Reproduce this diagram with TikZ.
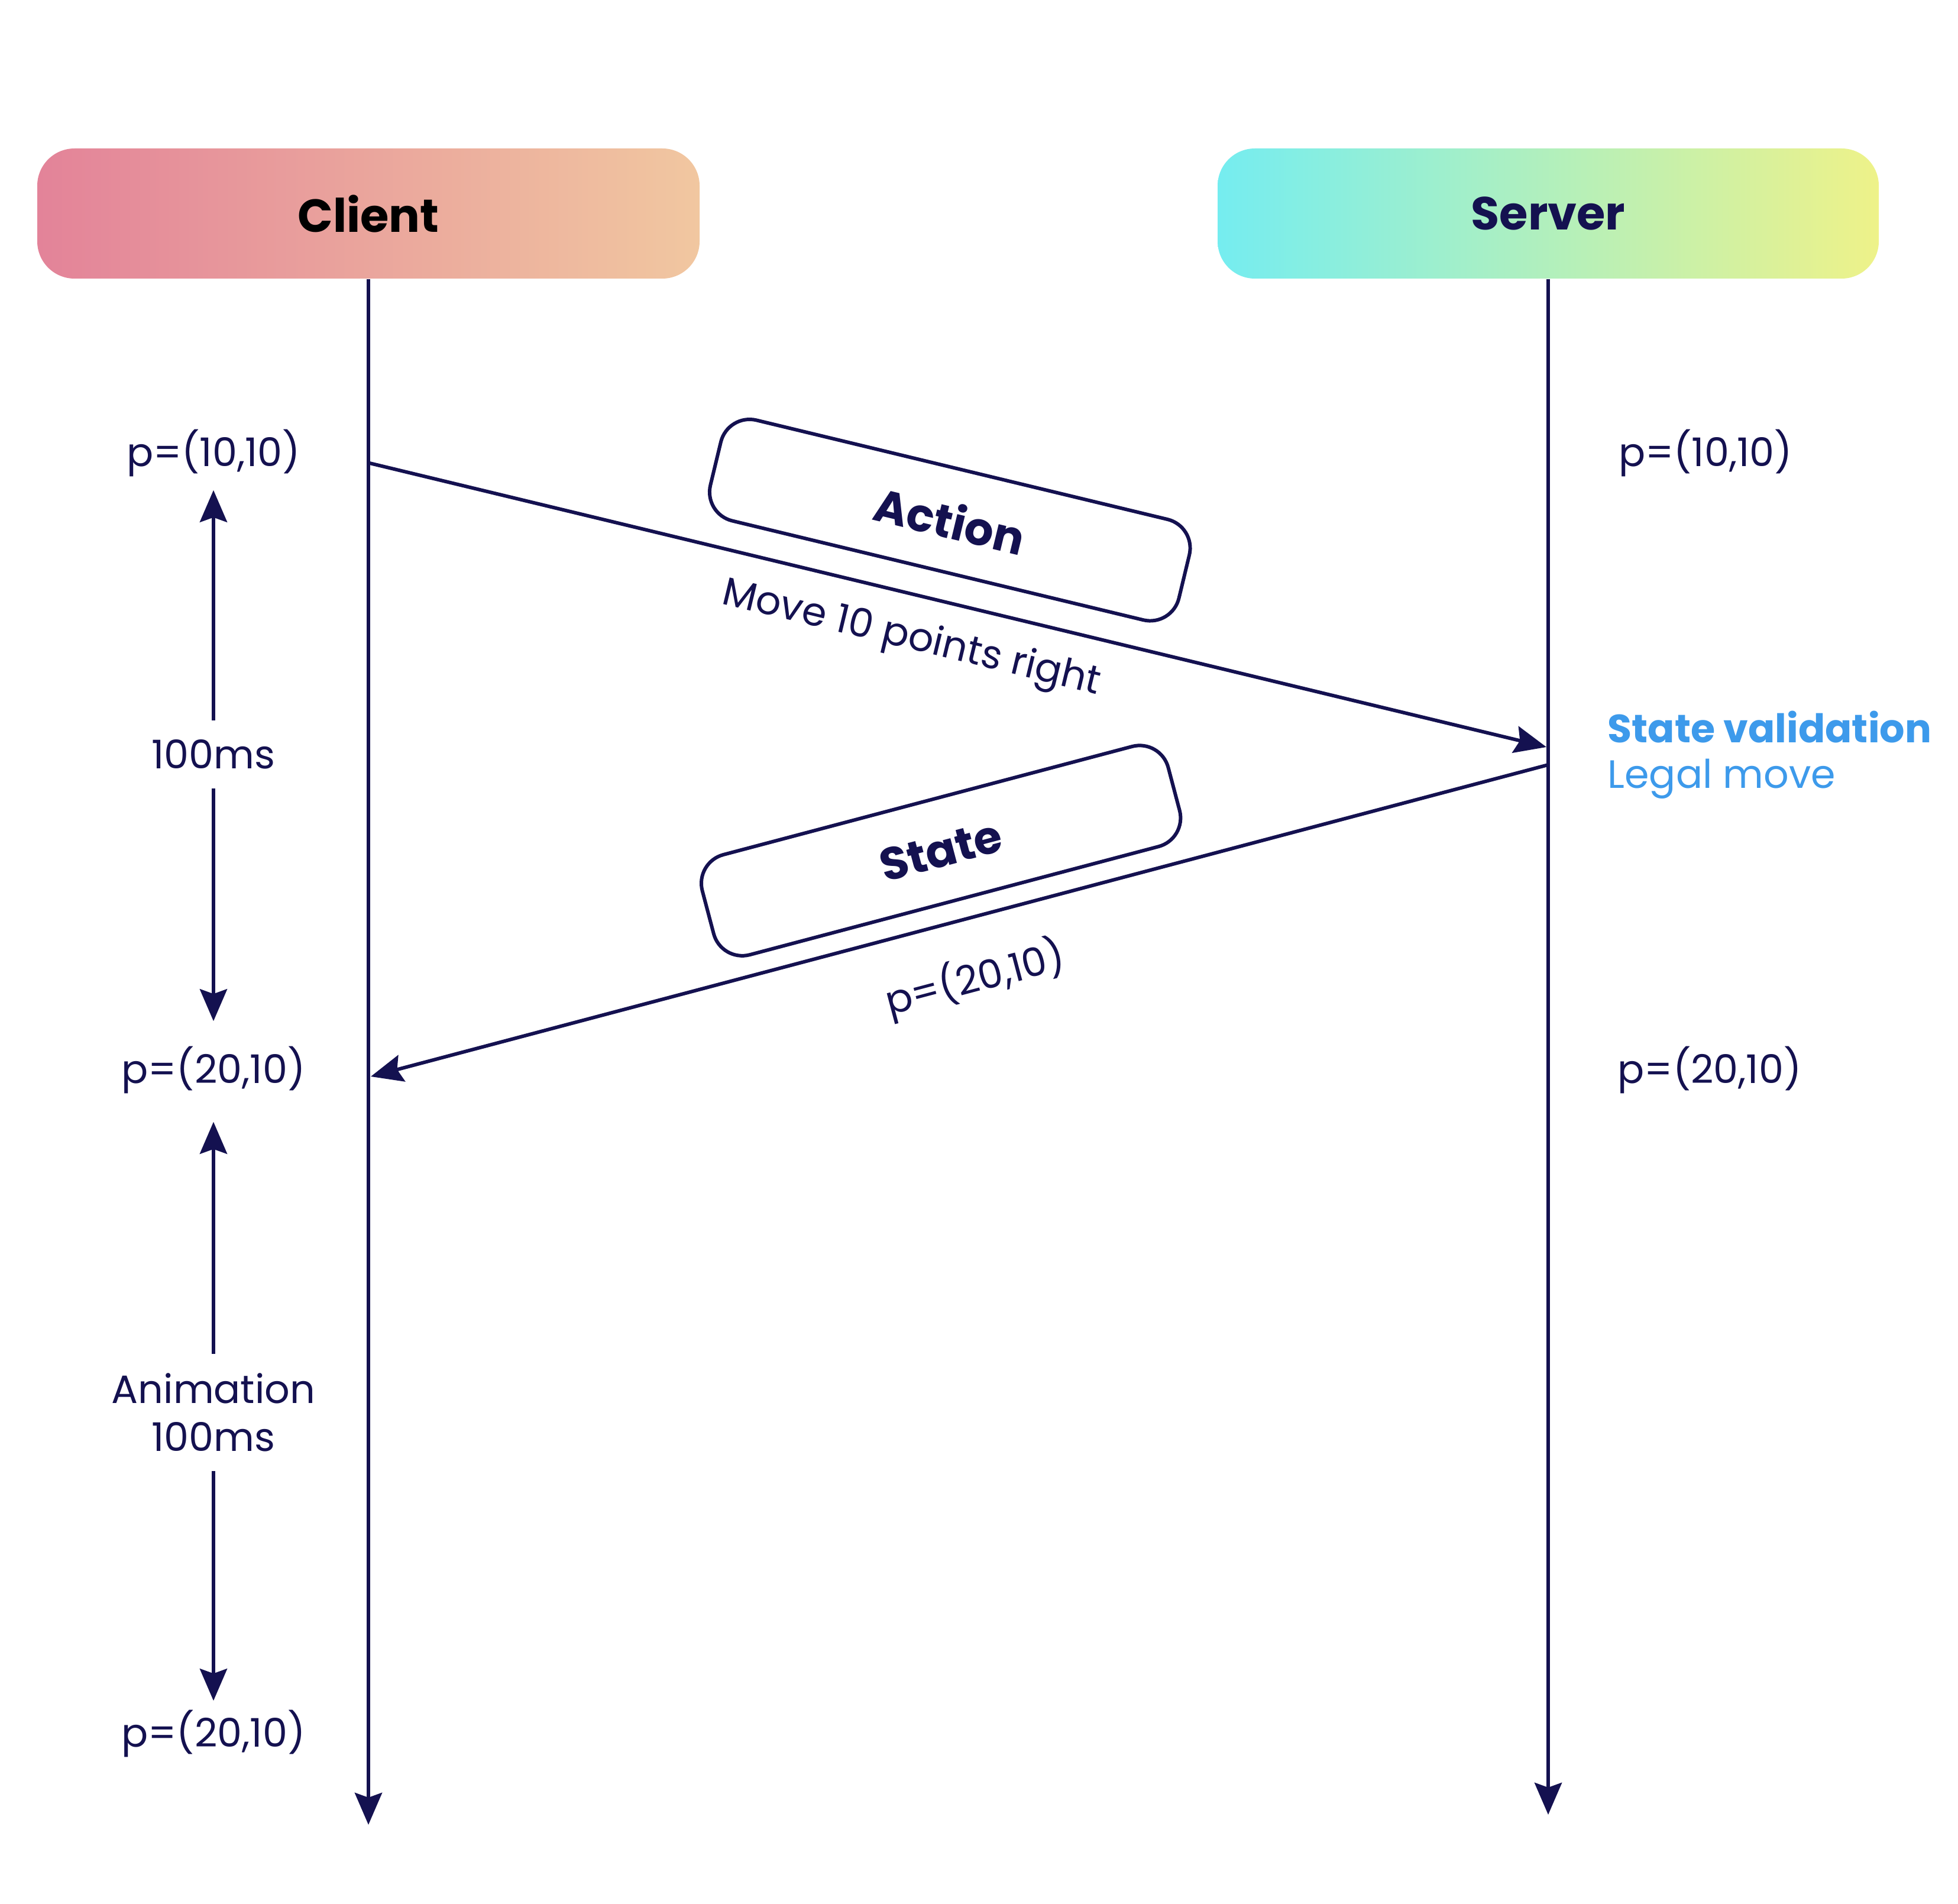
\documentclass[tikz,border=0pt]{standalone}
\usepackage{fontspec}
\setmainfont{Poppins}
\usetikzlibrary{arrows.meta}
\definecolor{navy}{RGB}{20,17,80}
\definecolor{valblue}{RGB}{61,154,235}
\definecolor{clientA}{RGB}{227,131,153}
\definecolor{clientB}{RGB}{241,199,160}
\definecolor{serverA}{RGB}{117,237,240}
\definecolor{serverB}{RGB}{238,242,137}
\tikzset{
  hdr/.style={rounded corners=0.63cm, minimum width=11.2cm, minimum height=2.2cm, inner sep=0pt,
    font=\fontsize{22.3}{27}\selectfont\bfseries},
  tagbox/.style={draw=navy, fill=white, line width=1.7pt, rounded corners=0.5cm, minimum width=8.15cm,
    minimum height=1.75cm, inner sep=0pt, text=navy, font=\fontsize{22}{26}\selectfont\bfseries},
  lab/.style={font=\fontsize{19}{23}\selectfont, text=navy, inner sep=0pt, text height=0.57cm, text depth=0.08cm},
  durlab/.style={font=\fontsize{19}{23}\selectfont, text=navy, fill=white, inner xsep=0.2cm, inner ysep=0.33cm, align=center},
  note/.style={font=\fontsize{19}{23}\selectfont, text=valblue, inner sep=0pt},
  life/.style={-{Stealth[length=5.4mm, width=4.6mm, inset=0.8mm]}, line width=1.7pt, draw=navy},
  dur/.style={{Stealth[length=5.4mm, width=4.6mm, inset=0.8mm]}-{Stealth[length=5.4mm, width=4.6mm, inset=0.8mm]},
    line width=1.7pt, draw=navy}
}

\begin{document}
\begin{tikzpicture}
\useasboundingbox (0,0) rectangle (33.11,-32.19);

% ---------------- Headers and lifelines ----------------
\node[hdr, left color=clientA, right color=clientB, text=black] (client) at (6.23,-3.61) {Client};
\node[hdr, left color=serverA, right color=serverB, text=navy, minimum width=11.18cm] (server) at (26.18,-3.61) {Server};

\coordinate (cend) at (6.23,-30.85);
\coordinate (send) at (26.18,-30.68);
\draw[life] (client) -- (cend);
\draw[life] (server) -- (send);

% ---------------- Messages ----------------
\coordinate (a1) at (6.25,-7.83);
\coordinate (a2) at (26.15,-12.63);
\coordinate (s1) at (26.18,-12.93);
\coordinate (s2) at (6.27,-18.20);

\draw[life] (a1) -- (a2)
  node[tagbox, pos=0.477, sloped, above=0.46cm] (action) {Action}
  node[lab, pos=0.469, sloped, below=0.315cm] (move) {Move 10 points right};
\draw[life] (s1) -- (s2)
  node[tagbox, midway, sloped, above=0.32cm] (state) {State}
  node[lab, midway, sloped, below=0.645cm] (snew) {p=(20,10)};

% ---------------- Client side ----------------
\node[lab] (cp1) at (3.61,-7.64) {p=(10,10)};
\node[lab] (cp2) at (3.61,-18.07) {p=(20,10)};
\node[lab] (cp3) at (3.61,-29.29) {p=(20,10)};

\draw[dur, shorten <=0.315cm, shorten >=0.475cm] (cp1) -- (cp2) node[durlab, midway, yshift=0.1cm] (lag) {100ms};
\draw[dur, shorten <=0.565cm, shorten >=0.205cm] (cp2) -- (cp3) node[durlab, midway, yshift=-0.2cm] (anim) {Animation\\100ms};

% ---------------- Server side ----------------
\node[lab] (sp1) at (28.84,-7.64) {p=(10,10)};
\node[lab] (sp2) at (28.91,-18.07) {p=(20,10)};
\node[note, anchor=base west] (valid) at (27.18,-12.55) {\bfseries State validation};
\node[note, anchor=base west] (legal) at (27.18,-13.32) {Legal move};

\end{tikzpicture}
\end{document}
